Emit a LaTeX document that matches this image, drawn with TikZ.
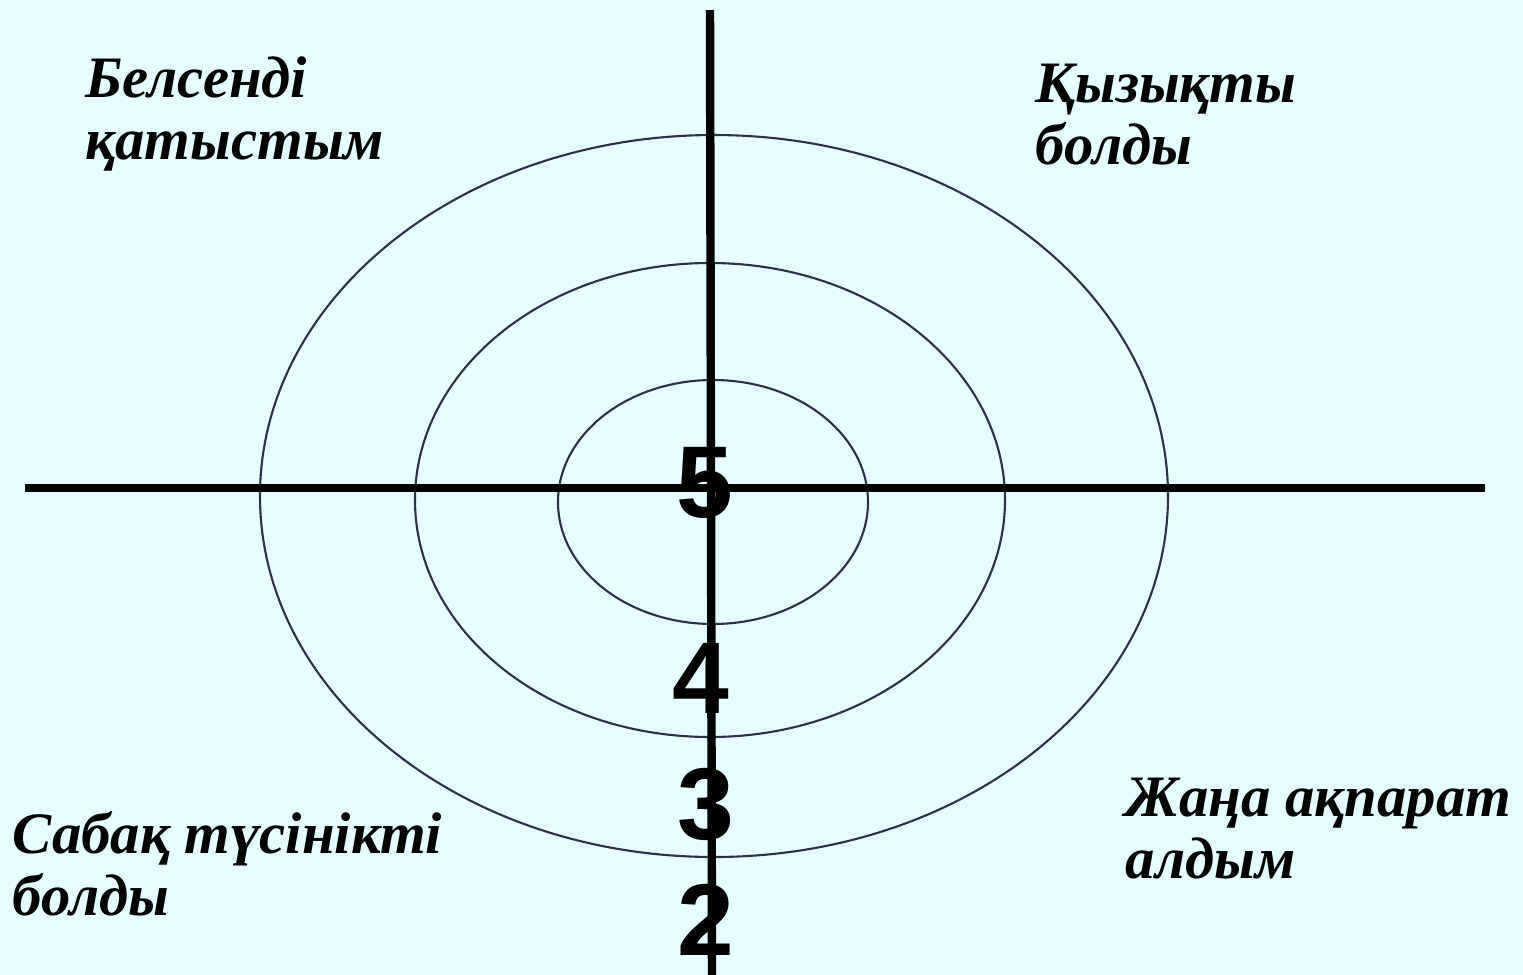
\documentclass[tikz,border=0pt]{standalone}
\usepackage{fontspec}
\setmainfont{Liberation Serif}
\newfontfamily\tgdigitfont{Liberation Sans}
\usetikzlibrary{positioning}
\definecolor{tgback}{RGB}{230,254,255}
\definecolor{tgring}{RGB}{45,48,72}
\tikzset{
  tgaxis/.style={line width=2.4pt, draw=black},
  tgring/.style={line width=0.6pt, draw=tgring},
  tglabel/.style={anchor=base west, align=left, inner sep=0pt,
    font=\fontsize{16.7}{17.5}\selectfont\bfseries\itshape},
  tgscore/.style={inner sep=0pt, font=\fontsize{29}{29}\selectfont\tgdigitfont\bfseries}
}

\begin{document}
\begin{tikzpicture}[x=0.01cm, y=-0.01cm]
  \fill[tgback] (0,0) rectangle (1523,975);
  \useasboundingbox (0,0) rectangle (1523,975);
  % rings
  \draw[tgring] (714,496) ellipse [x radius=454, y radius=361];
  \draw[tgring] (710,500) ellipse [x radius=295, y radius=237];
  \draw[tgring] (713,502) ellipse [x radius=155, y radius=122];
  % axes
  \draw[tgaxis] (25,488) -- (1485,488);
  \draw[tgaxis] (710,10) -- (712,975);
  % scores on the vertical axis
  \node[tgscore] (s5) at (705,483) {5};
  \node[tgscore] (s4) at (701,678) {4};
  \node[tgscore] (s3) at (706,804) {3};
  \node[tgscore] (s2) at (706,920) {2};
  % quarter labels (anchored at the last line)
  \node[tglabel] (active) at (85,159) {Белсенді\\қатыстым};
  \node[tglabel] (interest) at (1035,164) {Қызықты\\болды};
  \node[tglabel] (clear) at (12,915) {Сабақ түсінікті\\болды};
  \node[tglabel] (newinfo) at (1125,878) {Жаңа ақпарат\\алдым};
\end{tikzpicture}
\end{document}
